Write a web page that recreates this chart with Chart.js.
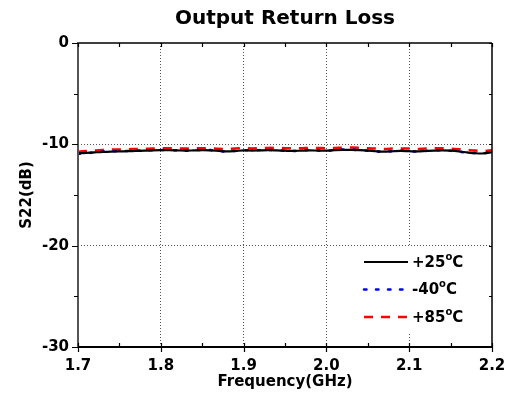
<!DOCTYPE html>
<html>
<head>
<meta charset="utf-8">
<script src="https://cdn.jsdelivr.net/npm/chart.js@4"></script>
<style>
  html, body { margin: 0; padding: 0; background: #fff; }
  #wrap { width: 517px; height: 398px; }
</style>
</head>
<body>
<div id="wrap"><canvas id="s22-chart" width="517" height="398"></canvas></div>
<script>
// frequency points, GHz
const freq = [];
for (let i = 0; i <= 50; i++) freq.push(+(1.7 + i * 0.01).toFixed(2));

// S22 (dB)
const s22_25 = [-10.90, -10.85, -10.80, -10.75, -10.72, -10.70, -10.68, -10.66, -10.63, -10.60,
  -10.58, -10.58, -10.60, -10.62, -10.60, -10.58, -10.60, -10.65, -10.70, -10.66,
  -10.60, -10.62, -10.60, -10.58, -10.60, -10.63, -10.65, -10.62, -10.60, -10.62,
  -10.62, -10.58, -10.55, -10.55, -10.58, -10.62, -10.68, -10.72, -10.68, -10.65,
  -10.68, -10.70, -10.66, -10.62, -10.60, -10.63, -10.70, -10.80, -10.88, -10.90, -10.78];
const s22_m40 = [-10.95, -10.88, -10.80, -10.72, -10.68, -10.70, -10.66, -10.62, -10.60, -10.58,
  -10.55, -10.56, -10.60, -10.63, -10.58, -10.55, -10.57, -10.64, -10.72, -10.65,
  -10.58, -10.60, -10.57, -10.55, -10.58, -10.64, -10.66, -10.60, -10.56, -10.60,
  -10.63, -10.57, -10.52, -10.54, -10.57, -10.64, -10.70, -10.74, -10.68, -10.62,
  -10.66, -10.72, -10.65, -10.60, -10.58, -10.64, -10.72, -10.82, -10.86, -10.88, -10.74];
const s22_85 = [-10.72, -10.66, -10.60, -10.55, -10.52, -10.50, -10.48, -10.46, -10.44, -10.42,
  -10.40, -10.38, -10.40, -10.42, -10.40, -10.38, -10.40, -10.44, -10.46, -10.42,
  -10.38, -10.40, -10.38, -10.35, -10.36, -10.38, -10.40, -10.38, -10.35, -10.36,
  -10.38, -10.36, -10.33, -10.32, -10.34, -10.38, -10.42, -10.45, -10.42, -10.40,
  -10.42, -10.45, -10.42, -10.40, -10.38, -10.42, -10.48, -10.55, -10.62, -10.66, -10.58];

const xTicks = [1.7, 1.8, 1.9, 2.0, 2.1, 2.2];
const yTicks = [0, -10, -20, -30];

const FONT = '"DejaVu Sans", "Liberation Sans", Arial, sans-serif';

function pts(ys) {
  return freq.map((f, i) => ({ x: f, y: ys[i] }));
}

const series = [
  { label: '+25', data: s22_25, color: '#000000', width: 2.2, dash: [] },
  { label: '-40', data: s22_m40, color: '#0000ff', width: 2.5, dash: [2, 10] },
  { label: '+85', data: s22_85, color: '#ff0000', width: 2.5, dash: [9, 8] }
];

// frame, ticks, titles and legend
const decor = {
  id: 'decor',
  afterDraw(chart) {
    const { ctx, chartArea: a, scales: { x, y } } = chart;
    ctx.save();

    // frame
    ctx.lineCap = 'butt';
    ctx.strokeStyle = '#000';
    ctx.lineWidth = 1.5;
    ctx.beginPath();
    ctx.moveTo(a.left, a.top); ctx.lineTo(a.right, a.top);
    ctx.moveTo(a.right, a.top); ctx.lineTo(a.right, a.bottom);
    ctx.stroke();
    ctx.lineWidth = 2;
    ctx.beginPath();
    ctx.moveTo(a.left, a.bottom); ctx.lineTo(a.right + 1, a.bottom);
    ctx.stroke();
    ctx.strokeStyle = '#555';
    ctx.beginPath();
    ctx.moveTo(a.left, a.top - 1); ctx.lineTo(a.left, a.bottom + 1);
    ctx.stroke();

    // x ticks
    ctx.strokeStyle = '#000';
    ctx.lineWidth = 1.2;
    ctx.beginPath();
    for (let v = 1.7; v <= 2.2001; v += 0.05) {
      const px = Math.round(x.getPixelForValue(v)) + 0.5;
      const major = Math.abs(v * 10 - Math.round(v * 10)) < 1e-6;
      ctx.moveTo(px, a.top); ctx.lineTo(px, a.top + 4);
      ctx.moveTo(px, a.bottom - 4); ctx.lineTo(px, a.bottom + (major ? 5 : 0));
    }
    // y ticks
    for (let v = 0; v >= -30; v -= 5) {
      const py = Math.round(y.getPixelForValue(v)) + 0.5;
      const major = v % 10 === 0;
      ctx.moveTo(a.left - (major ? 6 : 4), py); ctx.lineTo(a.left, py);
      ctx.moveTo(a.right - 3, py); ctx.lineTo(a.right, py);
    }
    ctx.stroke();

    // title
    ctx.fillStyle = '#000';
    ctx.textAlign = 'center';
    ctx.textBaseline = 'middle';
    ctx.font = 'bold 20px ' + FONT;
    ctx.fillText('Output Return Loss', (a.left + a.right) / 2, 19);

    // axis titles
    ctx.font = 'bold 15px ' + FONT;
    ctx.fillText('Frequency(GHz)', (a.left + a.right) / 2, 382);
    ctx.save();
    ctx.translate(27, (a.top + a.bottom) / 2);
    ctx.rotate(-Math.PI / 2);
    ctx.fillText('S22(dB)', 0, 0);
    ctx.restore();

    // legend box
    const lx = 359, ly = 246;
    ctx.fillStyle = '#fff';
    ctx.fillRect(lx, ly, 112, 87);
    series.forEach((s, i) => {
      const ry = 262 + i * 27.5;
      ctx.strokeStyle = s.color;
      ctx.lineWidth = s.width;
      ctx.setLineDash(s.dash.length ? (i === 1 ? [2.5, 9.5] : [9, 8]) : []);
      ctx.lineCap = i === 1 ? 'round' : 'butt';
      ctx.beginPath();
      ctx.moveTo(364, ry); ctx.lineTo(408, ry);
      ctx.stroke();
      ctx.setLineDash([]);
      ctx.fillStyle = '#000';
      ctx.textAlign = 'left';
      ctx.textBaseline = 'middle';
      ctx.font = 'bold 15px ' + FONT;
      ctx.fillText(s.label, 412, ry + 1);
      let w = ctx.measureText(s.label).width;
      ctx.font = 'bold 10px ' + FONT;
      ctx.fillText('o', 412 + w, ry - 5);
      w += ctx.measureText('o').width;
      ctx.font = 'bold 15px ' + FONT;
      ctx.fillText('C', 412 + w, ry + 1);
    });

    ctx.restore();
  }
};

new Chart(document.getElementById('s22-chart'), {
  type: 'line',
  data: {
    datasets: series.map(s => ({
      label: s.label,
      data: pts(s.data),
      borderColor: s.color,
      backgroundColor: s.color,
      borderWidth: s.width,
      borderDash: s.dash,
      borderCapStyle: s.dash.length && s.label === '-40' ? 'round' : 'butt',
      pointRadius: 0,
      tension: 0.3,
      fill: false
    }))
  },
  options: {
    responsive: false,
    animation: false,
    devicePixelRatio: 1,
    layout: { padding: { top: 43, right: 25, left: 0, bottom: 0 } },
    plugins: {
      legend: { display: false },
      title: { display: false },
      tooltip: { enabled: false }
    },
    scales: {
      x: {
        type: 'linear',
        min: 1.7,
        max: 2.2,
        afterBuildTicks: s => { s.ticks = xTicks.map(v => ({ value: v })); },
        afterFit: s => { s.height = 51; },
        border: { display: false, dash: [1, 2] },
        grid: {
          drawTicks: false,
          color: c => (c.tick && (c.tick.value === 1.7 || c.tick.value === 2.2)) ? 'rgba(0,0,0,0)' : '#555',
          lineWidth: 1
        },
        ticks: {
          padding: 10,
          color: '#000',
          font: { family: FONT, size: 15, weight: 'bold' },
          callback: v => v.toFixed(1),
          maxRotation: 0
        }
      },
      y: {
        type: 'linear',
        min: -30,
        max: 0,
        afterBuildTicks: s => { s.ticks = yTicks.map(v => ({ value: v })); },
        afterFit: s => { s.width = 78; },
        border: { display: false, dash: [1, 2] },
        grid: {
          drawTicks: false,
          color: c => (c.tick && (c.tick.value === 0 || c.tick.value === -30)) ? 'rgba(0,0,0,0)' : '#555',
          lineWidth: 1
        },
        ticks: {
          padding: 9,
          color: '#000',
          font: { family: FONT, size: 15, weight: 'bold' }
        }
      }
    }
  },
  plugins: [decor]
});
</script>
</body>
</html>
